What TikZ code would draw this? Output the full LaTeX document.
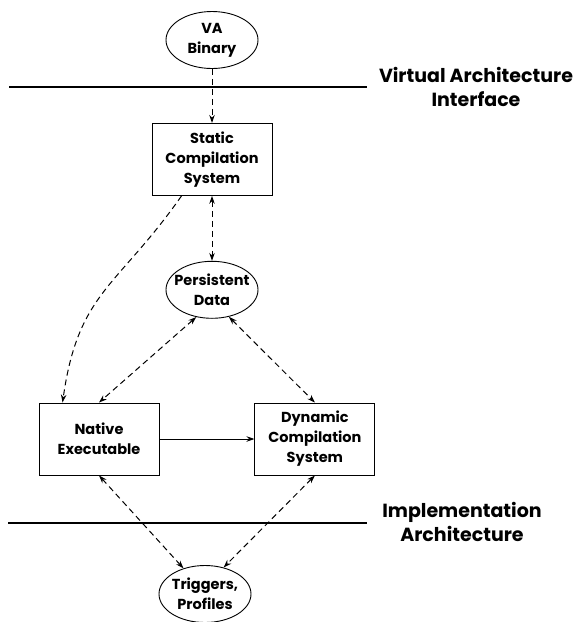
\documentclass[tikz,border=0pt]{standalone}
\usepackage{fontspec}
\setmainfont{Poppins}
\usetikzlibrary{shapes,arrows.meta,positioning,calc}

\begin{document}
\begin{tikzpicture}[x=1pt, y=1pt, font=\bfseries\fontsize{14.5}{20}\selectfont,
        block/.style={rectangle, draw, line width=0.9pt, text width=116pt, align=center, minimum width=120pt, minimum height=72pt, inner sep=0pt},
        oval/.style={ellipse, draw, line width=0.9pt, minimum width=92pt, minimum height=57pt, inner xsep=-11pt, inner ysep=0pt, align=center},
        level/.style={align=center, font=\bfseries\fontsize{19}{24}\selectfont},
        flow/.style={-{Stealth[length=8pt,width=5.5pt]}, line width=1pt, dash pattern=on 6pt off 4pt},
        flows/.style={{Stealth[length=8pt,width=5.5pt]}-{Stealth[length=8pt,width=5.5pt]}, line width=1pt, dash pattern=on 6pt off 4pt},
        sep/.style={line width=2.5pt}]

    \useasboundingbox (0,0) rectangle (580,-622);

    \node[oval] (va) at (212,-40) {VA\\Binary};
    \node[block, below=54pt of va] (static) {Static\\Compilation\\System};
    \node[oval, below=65pt of static] (persist) {Persistent\\Data};
    \node[block] (native) at (99,-439) {Native\\Executable};
    \node[block, right=95pt of native] (dynamic) {Dynamic\\Compilation\\System};
    \node[oval] (trig) at (205,-594) {Triggers,\\Profiles};

    \node[level] (vai) at (476,-87) {Virtual Architecture\\Interface};
    \node[level] (impl) at (462,-522) {Implementation\\Architecture};

    % interface levels
    \draw[sep] (9,-87) -- (367,-87);
    \draw[sep] (8,-523) -- (367,-523);

    \draw[flow] (va) -- (static);
    \draw[flows] (static) -- (persist);
    \draw[flow] ([xshift=30pt]static.south west) to[out=235, in=82, looseness=1.2] ([xshift=24pt]native.north west);
    \draw[flows] (persist.240) -- (native.north);
    \draw[flows] (persist.302) -- (dynamic.north);
    \draw[-{Stealth[length=8pt,width=5.5pt]}, line width=1pt] (native) -- (dynamic);
    \draw[flows] (native.south) -- (trig.130);
    \draw[flows] (dynamic.south) -- (trig.55);
\end{tikzpicture}
\end{document}
